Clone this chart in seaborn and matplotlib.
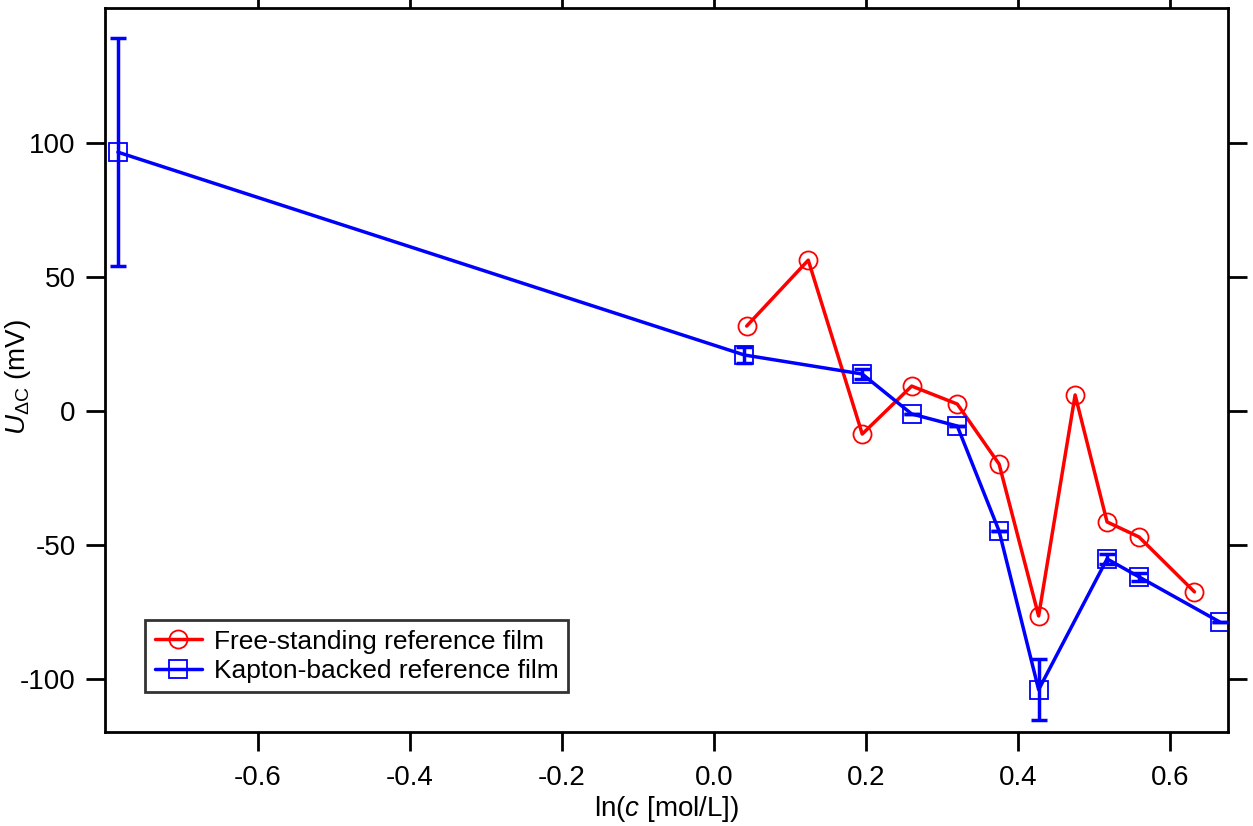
import matplotlib
matplotlib.use("Agg")
import matplotlib.pyplot as plt
import seaborn as sns
import pandas as pd

# Free-standing reference film
free_x = [0.043, 0.124, 0.195, 0.260, 0.320, 0.375, 0.427, 0.475, 0.517, 0.559, 0.632]
free_y = [31.7, 56.3, -8.6, 9.3, 2.6, -19.8, -76.5, 6.0, -41.4, -47.0, -67.5]

# Kapton-backed reference film
kap_x = [-0.784, 0.040, 0.195, 0.260, 0.320, 0.375, 0.427, 0.517, 0.559, 0.665]
kap_y = [96.6, 20.9, 13.8, -1.1, -5.6, -44.8, -104.0, -55.2, -61.9, -78.7]
kap_err = [42.5, 3.0, 1.8, 0.0, 0.0, 0.0, 11.4, 1.8, 1.6, 0.0]

x_ticks = [-0.6, -0.4, -0.2, 0.0, 0.2, 0.4, 0.6]
y_ticks = [-100, -50, 0, 50, 100]

sns.set_theme(style="white")
plt.rcParams["font.family"] = ["Liberation Sans", "DejaVu Sans"]
plt.rcParams["mathtext.fontset"] = "custom"
plt.rcParams["mathtext.rm"] = "Liberation Sans"
plt.rcParams["mathtext.it"] = "Liberation Sans:italic"
plt.rcParams["text.color"] = "black"
plt.rcParams["axes.labelcolor"] = "black"

red = "#ff0000"
blue = "#0000ff"
fs = 20

fig = plt.figure(figsize=(12.53, 8.26), dpi=100)
ax = fig.add_axes([0.0838, 0.1138, 0.8962, 0.8765])

df_free = pd.DataFrame({"x": free_x, "y": free_y})
df_kap = pd.DataFrame({"x": kap_x, "y": kap_y})

sns.lineplot(data=df_free, x="x", y="y", sort=False, ax=ax, color=red,
             linewidth=2.5, marker="o", markersize=13, markerfacecolor="none",
             markeredgecolor=red, markeredgewidth=1.3,
             label="Free-standing reference film")
sns.lineplot(data=df_kap, x="x", y="y", sort=False, ax=ax, color=blue,
             linewidth=2.5, marker="s", markersize=12.5, markerfacecolor="none",
             markeredgecolor=blue, markeredgewidth=1.3,
             label="Kapton-backed reference film")
ax.errorbar(kap_x, kap_y, yerr=kap_err, fmt="none", ecolor=blue,
            elinewidth=2.5, capsize=6, capthick=2.5, zorder=3)

ax.set_xlim(-0.801, 0.676)
ax.set_ylim(-119.8, 150.4)
ax.set_xticks(x_ticks)
ax.set_xticklabels([f"{v:.1f}" for v in x_ticks])
ax.set_yticks(y_ticks)
ax.set_yticklabels([str(v) for v in y_ticks])

ax.tick_params(axis="both", which="major", direction="out", length=14,
               width=2, color="black", labelsize=fs, labelcolor="black",
               top=True, right=True, bottom=True, left=True)
ax.tick_params(axis="x", pad=10)
ax.tick_params(axis="y", pad=7)
for side in ax.spines.values():
    side.set_color("black")
    side.set_linewidth(2)

ax.set_xlabel(r"ln($c$ [mol/L])", fontsize=fs, color="black", labelpad=2)
ax.set_ylabel(r"$U_{\Delta\mathrm{C}}$ (mV)", fontsize=fs, color="black")
ax.yaxis.set_label_coords(-0.064, 0.49)

leg = ax.legend(loc="lower left", bbox_to_anchor=(0.036, 0.055), fontsize=19,
                frameon=True, fancybox=False, edgecolor="black",
                handlelength=1.8, borderpad=0.35, labelspacing=0.2,
                handletextpad=0.45, borderaxespad=0)
leg.get_frame().set_linewidth(2)
for t in leg.get_texts():
    t.set_color("black")

fig.savefig("out.png", dpi=100, facecolor="white")
